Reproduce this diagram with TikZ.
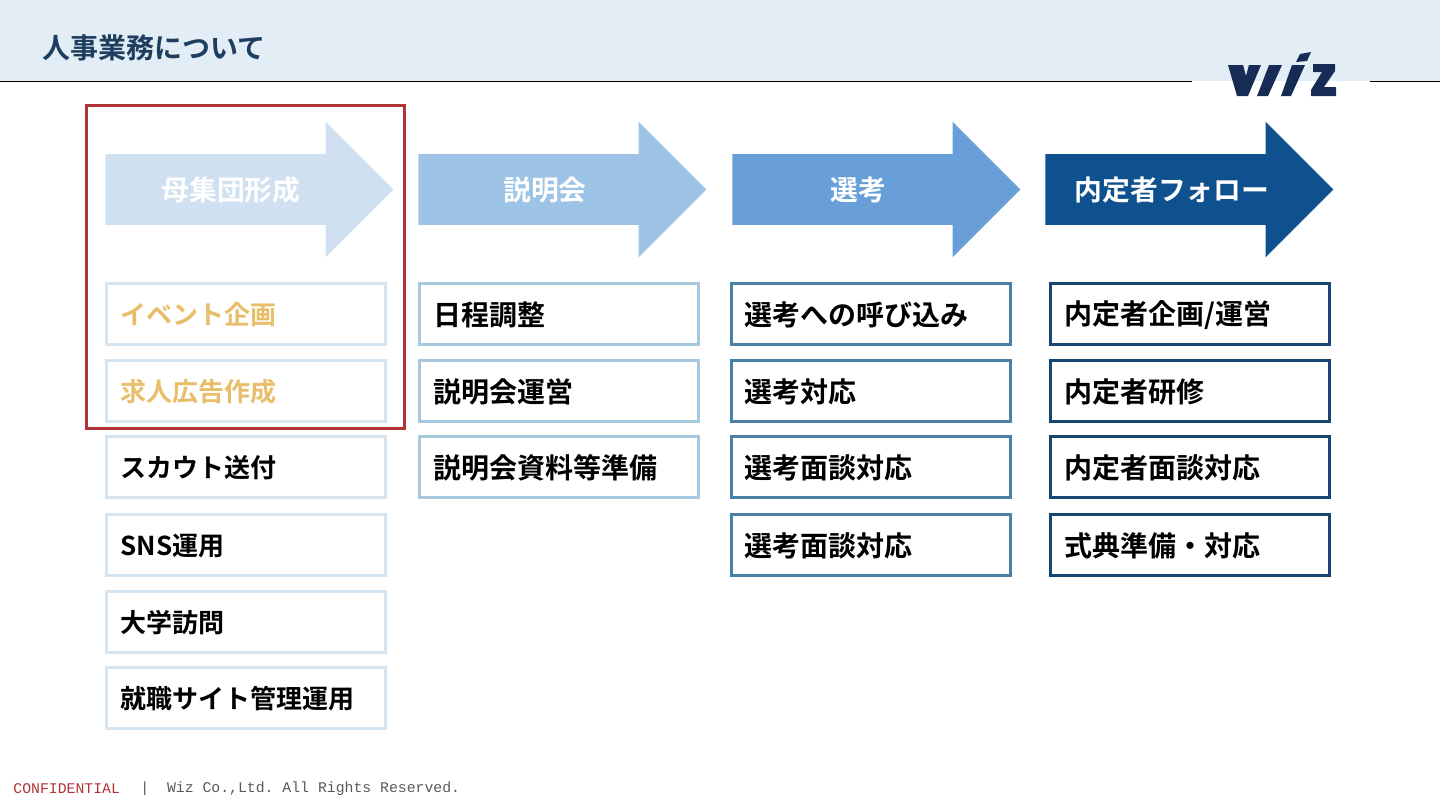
\documentclass[tikz,border=0pt]{standalone}
\usepackage{fontspec}
\setmainfont{Noto Sans CJK JP}[BoldFont={Noto Sans CJK JP Bold}]
\setmonofont{Liberation Mono}
\usetikzlibrary{shapes.arrows}
\definecolor{headband}{RGB}{227,237,245}
\definecolor{headtext}{RGB}{30,62,96}
\definecolor{logoblue}{RGB}{22,44,84}
\definecolor{framered}{RGB}{176,52,56}
\definecolor{eventgold}{RGB}{232,190,106}
\definecolor{arrowa}{RGB}{207,224,241}
\definecolor{arrowb}{RGB}{157,195,230}
\definecolor{arrowc}{RGB}{104,159,216}
\definecolor{arrowd}{RGB}{15,80,142}
\definecolor{boxa}{RGB}{213,228,239}
\definecolor{boxb}{RGB}{168,200,224}
\definecolor{boxc}{RGB}{72,128,168}
\definecolor{boxd}{RGB}{24,70,116}
\tikzstyle{flowarrow}=[single arrow,anchor=tail,minimum height=144pt,minimum width=67.5pt,single arrow head extend=16.25pt,inner xsep=0pt,inner ysep=0pt,text height=17.5pt,text depth=17.5pt]
\tikzstyle{flowtext}=[inner sep=0pt,font=\bfseries\fontsize{13.9pt}{14pt}\selectfont,text=white]
\tikzstyle{taskbox}=[rectangle,anchor=north west,minimum width=139.4pt,minimum height=30.4pt,line width=1.6pt,fill=white,inner sep=0pt]
\tikzstyle{tasktext}=[anchor=west,yshift=-0.5pt,font=\bfseries\fontsize{14pt}{14pt}\selectfont,inner sep=0pt]
\tikzstyle{poolt}=[anchor=west,yshift=-0.5pt,font=\bfseries\fontsize{13pt}{14pt}\selectfont,inner sep=0pt]
\begin{document}
\begin{tikzpicture}[x=0.5pt,y=-0.5pt]
  \useasboundingbox (0,0) rectangle (1440,810);
  % header
  \fill[headband] (0,0) rectangle (1440,81);
  \draw[black,line width=0.5pt] (0,81) -- (1192,81);
  \draw[black,line width=0.5pt] (1370,81) -- (1440,81);
  \node[anchor=west,inner sep=0pt,text=headtext,font=\fontsize{14pt}{14pt}\selectfont\bfseries] (title) at (42,48) {人事業務について};
  % logo
  \fill[logoblue] (1228,65) -- (1243,65) -- (1246,76) -- (1249,65) -- (1261,65) -- (1248,96) -- (1237,96) -- cycle;
  \fill[logoblue] (1257,96) -- (1269,65) -- (1282,65) -- (1268,96) -- cycle;
  \fill[logoblue] (1281,96) -- (1292,65) -- (1305,65) -- (1291,96) -- cycle;
  \fill[logoblue] (1296,62) -- (1300,54) -- (1311,52) -- (1307,61) -- cycle;
  \fill[logoblue] (1313,64) -- (1335,64) -- (1335,71) -- (1324,87) -- (1336,87) -- (1336,96) -- (1311,96) -- (1311,90) -- (1322,72) -- (1313,72) -- cycle;

  % arrows
  \node[flowarrow,fill=arrowa] (poolarrow) at (105,189.5) {};
  \node[flowarrow,fill=arrowb] (infoarrow) at (418,189.5) {};
  \node[flowarrow,fill=arrowc] (selectarrow) at (732,189.5) {};
  \node[flowarrow,fill=arrowd] (offerarrow) at (1045,189.5) {};
  \node[flowtext] (pooltext) at (231,190) {母集団形成};
  \node[flowtext] (infotext) at (545,190) {説明会};
  \node[flowtext] (selecttext) at (858,190) {選考};
  \node[flowtext] (offertext) at (1172,190) {内定者フォロー};

  % column 1
  \node[taskbox,draw=boxa] (poola) at (105,282) {};
  \node[taskbox,draw=boxa] (poolb) at (105,359) {};
  \node[taskbox,draw=boxa] (poolc) at (105,435) {};
  \node[taskbox,draw=boxa] (poold) at (105,513) {};
  \node[taskbox,draw=boxa] (poole) at (105,590) {};
  \node[taskbox,draw=boxa] (poolf) at (105,666) {};
  \node[poolt,text=eventgold] at (120,314) {イベント企画};
  \node[poolt,text=eventgold] at (120,391) {求人広告作成};
  \node[poolt] at (120,467) {スカウト送付};
  \node[poolt] at (120,545) {SNS運用};
  \node[poolt] at (120,622) {大学訪問};
  \node[poolt] at (120,698) {就職サイト管理運用};

  % column 2
  \node[taskbox,draw=boxb] (infoa) at (418,282) {};
  \node[taskbox,draw=boxb] (infob) at (418,359) {};
  \node[taskbox,draw=boxb] (infoc) at (418,435) {};
  \node[tasktext] at (433,314) {日程調整};
  \node[tasktext] at (433,391) {説明会運営};
  \node[tasktext] at (433,467) {説明会資料等準備};

  % column 3
  \node[taskbox,draw=boxc] (selecta) at (730,282) {};
  \node[taskbox,draw=boxc] (selectb) at (730,359) {};
  \node[taskbox,draw=boxc] (selectc) at (730,435) {};
  \node[taskbox,draw=boxc] (selectd) at (730,513) {};
  \node[tasktext] at (744,314) {選考への呼び込み};
  \node[tasktext] at (744,391) {選考対応};
  \node[tasktext] at (744,467) {選考面談対応};
  \node[tasktext] at (744,545) {選考面談対応};

  % column 4
  \node[taskbox,draw=boxd] (offera) at (1049,282) {};
  \node[taskbox,draw=boxd] (offerb) at (1049,359) {};
  \node[taskbox,draw=boxd] (offerc) at (1049,435) {};
  \node[taskbox,draw=boxd] (offerd) at (1049,513) {};
  \node[tasktext] at (1064,314) {内定者企画/運営};
  \node[tasktext] at (1064,391) {内定者研修};
  \node[tasktext] at (1064,467) {内定者面談対応};
  \node[tasktext] at (1064,545) {式典準備・対応};

  % red frame
  \draw[framered,line width=1.5pt] (86,105.5) rectangle (404.5,428);

  % footer
  \node[anchor=west,inner sep=0pt,text=framered,font=\ttfamily\fontsize{7.4pt}{8pt}\selectfont] (conf) at (13,789) {CONFIDENTIAL};
  \node[anchor=west,inner sep=0pt,text=black!65,font=\ttfamily\fontsize{7.4pt}{8pt}\selectfont] (rights) at (140,789) {|\ \ Wiz Co.,Ltd. All Rights Reserved.};
\end{tikzpicture}
\end{document}
